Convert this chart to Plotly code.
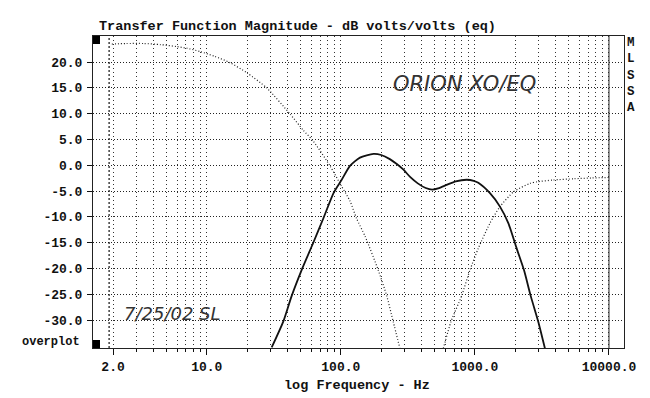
import plotly.graph_objects as go
import math

# ---------------- data ----------------
woofer_hz = [1.96, 2.5, 3.4, 4.5, 6.0, 7.1, 8.9, 11.5, 14.9, 20, 28, 41.8, 52.5, 62.3,
             83, 101, 117, 131, 152, 190, 220, 246, 276]
woofer_db = [23.5, 23.6, 23.6, 23.4, 23.0, 22.7, 22.05, 21.1, 19.9, 17.9, 15.0, 9.95, 6.8, 4.7,
             -0.1, -4.0, -6.9, -10.3, -13.8, -20.3, -25.3, -30.3, -35.5]

mid_hz = [30.5, 37.2, 43, 51, 62.3, 74, 88.9, 101.5, 117, 139, 175, 200, 232, 260, 292, 330,
          375, 430, 480, 540, 615, 720, 868, 980, 1060, 1295, 1538, 1775, 2048, 2323, 2607,
          2969, 3331]
mid_db = [-35.3, -30.3, -25.3, -20.3, -15.0, -10.3, -5.2, -2.8, -0.1, 1.5, 2.2, 2.0, 1.2, 0.3,
          -0.8, -2.3, -3.5, -4.4, -4.7, -4.4, -3.8, -3.1, -2.8, -3.0, -3.4, -5.4, -8.0, -11.2,
          -16.1, -20.3, -25.3, -30.3, -35.5]

tweeter_hz = [581, 663, 796, 918, 1060, 1295, 1538, 1950, 2575, 2904, 3820, 5500, 7500, 10000]
tweeter_db = [-35.5, -30.3, -25.3, -20.3, -16.1, -11.2, -8.0, -5.1, -3.5, -3.2, -2.85, -2.6,
              -2.45, -2.35]

x_major = [2, 10, 100, 1000, 10000]
x_major_labels = ["2.0", "10.0", "100.0", "1000.0", "10000.0"]
x_minor = sorted(set(m * 10 ** d for d in range(0, 4) for m in range(2, 10)
                     if 2 < m * 10 ** d < 10000) - set(x_major))

y_ticks = [20, 15, 10, 5, 0, -5, -10, -15, -20, -25, -30]
y_labels = ["%.1f" % v for v in y_ticks]

cursor_hz = 1.87
x_range_hz = (1.418, 10000)
x_pad_right_dec = 0.112
y_range = (-35.4, 25.06)

MONO = "Liberation Mono, Courier New, monospace"

fig = go.Figure()

fig.add_trace(go.Scatter(x=woofer_hz, y=woofer_db, mode="lines",
                         line=dict(color="#222222", width=1.2, dash="1px,2px",
                                   shape="spline", smoothing=0.6),
                         hoverinfo="skip"))
fig.add_trace(go.Scatter(x=tweeter_hz, y=tweeter_db, mode="lines",
                         line=dict(color="#222222", width=1.2, dash="1px,2px",
                                   shape="spline", smoothing=0.6),
                         hoverinfo="skip"))
fig.add_trace(go.Scatter(x=mid_hz, y=mid_db, mode="lines",
                         line=dict(color="#111111", width=1.8,
                                   shape="spline", smoothing=0.6),
                         hoverinfo="skip"))

# cursor line and right end of data axis
fig.add_vline(x=cursor_hz, line=dict(color="#111", width=1.2, dash="2px,2px"))
fig.add_vline(x=x_major[-1], line=dict(color="#222", width=1))

# black squares at the left corners
for yanchor, y0, y1 in [(1, -8, 0), (0, 0, 8)]:
    fig.add_shape(type="rect", xref="paper", yref="paper",
                  xsizemode="pixel", ysizemode="pixel",
                  xanchor=0, yanchor=yanchor, x0=0, x1=7, y0=y0, y1=y1,
                  fillcolor="#000", line=dict(width=0))

# the page body has an 8px margin, so the figure is 8px smaller and margins shifted
fig.update_layout(
    width=642, height=390,
    margin=dict(l=85, r=26, t=28, b=50),
    paper_bgcolor="white", plot_bgcolor="white",
    showlegend=False,
    xaxis=dict(
        type="log",
        range=[math.log10(x_range_hz[0]), math.log10(x_range_hz[1]) + x_pad_right_dec],
        tickmode="array", tickvals=x_major, ticktext=x_major_labels,
        ticks="outside", ticklen=6, tickcolor="#111", tickwidth=1,
        tickfont=dict(family=MONO, size=13, color="#111", weight="bold"),
        showgrid=True, gridcolor="#333", griddash="1px,3px", gridwidth=1,
        minor=dict(tickmode="array", tickvals=x_minor, ticks="outside", ticklen=3,
                   tickcolor="#111", showgrid=True, gridcolor="#333",
                   griddash="1px,3px", gridwidth=1),
        showline=True, linecolor="#222", linewidth=1, mirror=True,
        zeroline=False,
    ),
    yaxis=dict(
        range=list(y_range),
        tickmode="array", tickvals=y_ticks, ticktext=y_labels,
        ticks="outside", ticklen=5, tickcolor="#111",
        tickfont=dict(family=MONO, size=13, color="#111", weight="bold"),
        ticklabelstandoff=2,
        showgrid=True, gridcolor="#222", griddash="1px,2px", gridwidth=1,
        showline=True, linecolor="#222", linewidth=1, mirror=True,
        zeroline=False,
    ),
)

annotations = [
    dict(text="Transfer Function Magnitude - dB volts/volts (eq)",
         xref="paper", yref="paper", x=0.007, y=1, xanchor="left", yanchor="bottom",
         yshift=0, showarrow=False,
         font=dict(family=MONO, size=13.5, color="#111", weight="bold")),
    dict(text="log Frequency - Hz", xref="paper", yref="paper", x=0.497, y=0,
         xanchor="center", yanchor="middle", yshift=-37, showarrow=False,
         font=dict(family=MONO, size=13.5, color="#111", weight="bold")),
    dict(text="overplot", xref="paper", yref="paper", x=0, y=0, xanchor="right",
         yanchor="middle", xshift=-11, yshift=6, showarrow=False,
         font=dict(family=MONO, size=12, color="#111", weight="bold")),
    dict(text="M<br>L<br>S<br>S<br>A", xref="paper", yref="paper", x=1, y=1,
         xanchor="left", yanchor="top", xshift=1, yshift=2, showarrow=False,
         font=dict(family=MONO, size=12.5, color="#111", weight="bold")),
    dict(text="ORION XO/EQ", xref="paper", yref="paper", x=0.700, y=0.845,
         xanchor="center", yanchor="middle", showarrow=False,
         font=dict(family="DejaVu Sans", size=21, color="#333", weight=300, style="italic")),
    dict(text="7/25/02 SL", xref="paper", yref="paper", x=0.149, y=0.112,
         xanchor="center", yanchor="middle", showarrow=False,
         font=dict(family="DejaVu Sans", size=18, color="#333", weight=300, style="italic")),
]
fig.update_layout(annotations=annotations)

fig.write_html("out.html")
